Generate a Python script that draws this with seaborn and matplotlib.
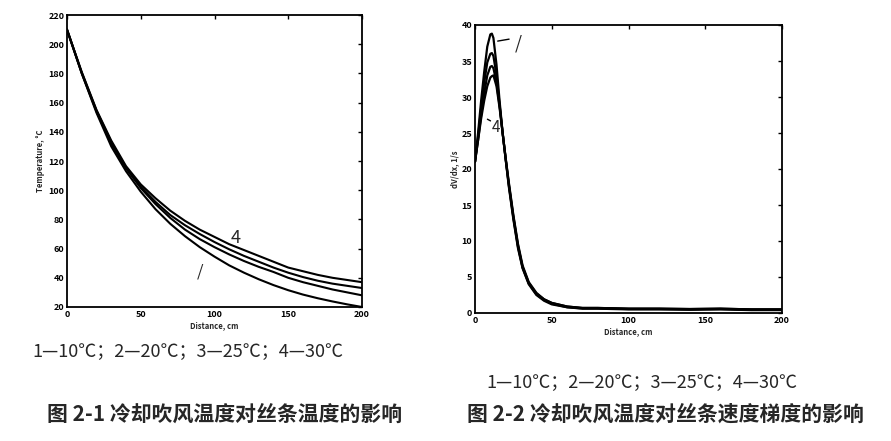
import numpy as np
import pandas as pd
import matplotlib
matplotlib.use("Agg")
import matplotlib.pyplot as plt
import seaborn as sns

# ---- data: Fig 2-1 temperature vs distance ----
dist_t = [0, 10, 20, 30, 40, 50, 60, 70, 80, 90, 100, 110, 120, 130, 140, 150, 160, 170, 180, 190, 200]
temp_1 = [210, 180, 153, 130, 113, 99, 87, 77, 68.5, 61, 54.5, 48.5, 43.5, 39, 35, 31.5, 28.5, 26, 23.8, 21.8, 20]
temp_2 = [210, 180, 154, 132, 115, 101.5, 90.5, 81, 73, 66.5, 61, 56, 51.5, 47.5, 44, 40, 37, 34.5, 32, 30, 28]
temp_3 = [210, 180.5, 154.5, 133, 115.5, 102.5, 92, 83, 76, 70, 64.5, 59.5, 55, 51, 47, 43.5, 40.5, 38, 36, 34.5, 33]
temp_4 = [210, 181, 155, 134, 116.5, 104, 94.5, 86, 79, 73, 68, 63, 59, 55, 51, 47, 44.5, 42, 40, 38.5, 37]

# ---- data: Fig 2-2 velocity gradient vs distance ----
dist_v = [0, 2, 4, 6, 8, 10, 11, 12, 14, 16, 18, 20, 22, 25, 28, 31, 35, 40, 45, 50, 60, 70, 80, 100, 120, 140, 160, 180, 200]
grad_1 = [21, 25, 29.5, 33.5, 37, 38.7, 38.8, 38.2, 34.5, 29.5, 25, 21.5, 18.2, 13.6, 9.6, 6.6, 4.3, 2.8, 1.9, 1.4, 0.9, 0.7, 0.7, 0.6, 0.6, 0.55, 0.6, 0.5, 0.5]
grad_2 = [21, 24.5, 28.5, 32, 34.8, 36, 36.1, 35.7, 33, 29, 25, 21.4, 18, 13.4, 9.4, 6.4, 4.2, 2.7, 1.9, 1.4, 0.9, 0.7, 0.7, 0.6, 0.6, 0.55, 0.6, 0.5, 0.5]
grad_3 = [21, 24, 27.5, 30.5, 33, 34.2, 34.3, 34, 32, 28.8, 25, 21.3, 17.8, 13.2, 9.2, 6.3, 4.1, 2.6, 1.8, 1.3, 0.8, 0.65, 0.65, 0.55, 0.55, 0.5, 0.55, 0.45, 0.45]
grad_4 = [21, 24, 27, 29.5, 31.5, 32.7, 32.9, 33, 31.5, 28.5, 25, 21.3, 17.6, 13, 9, 6.2, 4, 2.5, 1.7, 1.2, 0.8, 0.6, 0.6, 0.5, 0.5, 0.45, 0.5, 0.4, 0.4]

series_names = ["1", "2", "3", "4"]
caption = "1—10℃；2—20℃；3—25℃；4—30℃"
title_left = "图 2-1 冷却吹风温度对丝条温度的影响"
title_right = "图 2-2 冷却吹风温度对丝条速度梯度的影响"

df_t = pd.concat([pd.DataFrame({"x": dist_t, "y": v, "s": n})
                  for n, v in zip(series_names, [temp_1, temp_2, temp_3, temp_4])])
df_v = pd.concat([pd.DataFrame({"x": dist_v, "y": v, "s": n})
                  for n, v in zip(series_names, [grad_1, grad_2, grad_3, grad_4])])

sns.set_theme(style="white")
plt.rcParams['font.family'] = ['Noto Sans CJK SC', 'DejaVu Sans']

fig = plt.figure(figsize=(8.91, 4.41), dpi=100)
ax1 = fig.add_axes([67/891, 1-307/441, 295/891, 292/441])
ax2 = fig.add_axes([475/891, 1-313/441, 307/891, 288/441])

pal = {n: "black" for n in series_names}
sns.lineplot(data=df_t, x="x", y="y", hue="s", palette=pal, ax=ax1, legend=False, linewidth=1.5)
sns.lineplot(data=df_v, x="x", y="y", hue="s", palette=pal, ax=ax2, legend=False, linewidth=1.6)

ax1.set_xlim(0, 200); ax1.set_ylim(20, 220)
ax1.set_xticks([0, 50, 100, 150, 200]); ax1.set_yticks(range(20, 221, 20))
ax2.set_xlim(0, 200); ax2.set_ylim(0, 40)
ax2.set_xticks([0, 50, 100, 150, 200]); ax2.set_yticks(range(0, 41, 5))

for ax in (ax1, ax2):
    for sp in ax.spines.values():
        sp.set_color("black"); sp.set_linewidth(1.3)
    ax.tick_params(direction="in", length=3, width=1, labelsize=6.5, pad=2,
                   top=True, right=True, colors="black")
    for lab in ax.get_xticklabels() + ax.get_yticklabels():
        lab.set_fontweight("bold")
    ax.set_xlabel("Distance, cm", fontsize=5.5, fontweight="bold", labelpad=2)

ax1.set_ylabel("Temperature, °C", fontsize=5.5, fontweight="bold", labelpad=2)
ax2.set_ylabel("dV/dx, 1/s", fontsize=5.5, fontweight="bold", labelpad=2)

# curve annotations
ax1.text(114, 67, "4", fontsize=13, style="italic", ha="center", va="center")
ax1.text(90, 44, "/", fontsize=12, ha="center", va="center")
ax2.annotate("", xy=(13, 37.7), xytext=(24, 38.1),
             arrowprops=dict(arrowstyle="-", color="black", lw=1))
ax2.text(28, 37.4, "/", fontsize=13, ha="center", va="center")
ax2.annotate("", xy=(6.5, 27.1), xytext=(11.7, 26.5),
             arrowprops=dict(arrowstyle="-", color="black", lw=1))
ax2.text(14, 25.8, "4", fontsize=11, style="italic", ha="center", va="center")

fig.text(188/891, 1-352/441, caption, fontsize=13, ha="center", va="center")
fig.text(642/891, 1-383/441, caption, fontsize=13, ha="center", va="center")
fig.text(225/891, 1-414/441, title_left, fontsize=15, fontweight="bold", ha="center", va="center")
fig.text(665/891, 1-414/441, title_right, fontsize=15, fontweight="bold", ha="center", va="center")

fig.savefig("out.png", dpi=100, facecolor="white")
